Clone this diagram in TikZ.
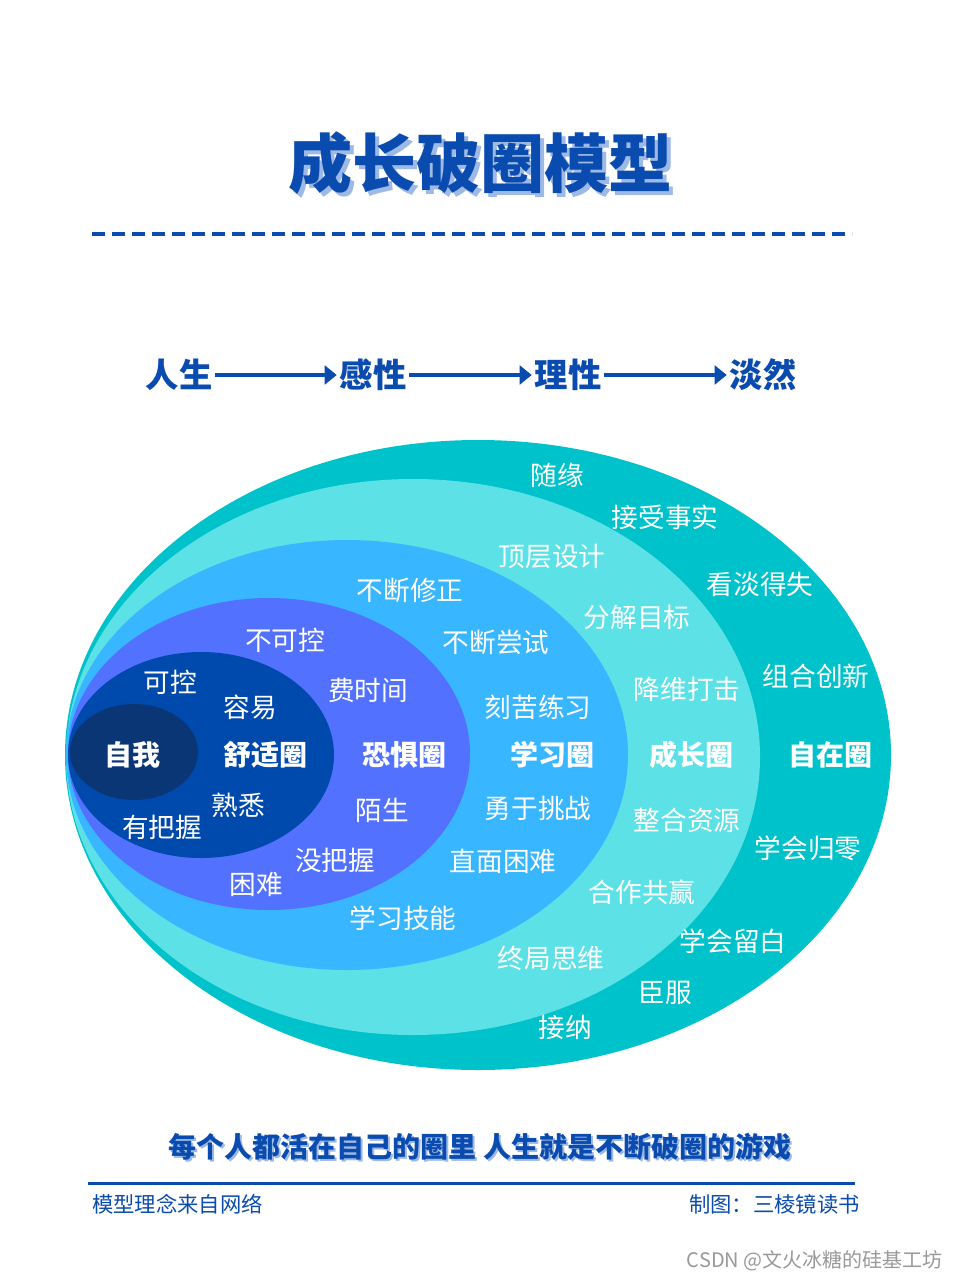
\documentclass[tikz,border=0pt]{standalone}
\usepackage{fontspec}
\setmainfont{Noto Sans CJK SC}
\usetikzlibrary{arrows.meta}

\definecolor{deepblue}{HTML}{0A4BAF}
\definecolor{shadeblue}{HTML}{9DB9E6}
\definecolor{ringteal}{HTML}{00C2CB}
\definecolor{ringcyan}{HTML}{5CE1E6}
\definecolor{ringsky}{HTML}{38B6FF}
\definecolor{ringviolet}{HTML}{5271FF}
\definecolor{ringnavy}{HTML}{004AAD}
\definecolor{ringcore}{HTML}{0A3676}

\tikzset{
  ringname/.style={text=white, inner sep=0pt, font=\fontsize{21}{21}\selectfont\bfseries},
  ringword/.style={text=white, inner sep=0pt, font=\fontsize{20}{20}\selectfont},
  stage/.style={text=deepblue, inner sep=2pt, font=\fontsize{25}{25}\selectfont\bfseries},
  flow/.style={draw=deepblue, line width=3pt, -{Triangle[length=9pt,width=14pt]}},
}

\begin{document}
\begin{tikzpicture}[x=0.75pt, y=-0.75pt]
	\useasboundingbox[fill=white] (0,0) rectangle (960,1280);

	% title
	\node[text=shadeblue, font=\fontsize{48}{48}\selectfont\bfseries] (titleshade) at (484,167) {成长破圈模型};
	\node[text=deepblue, font=\fontsize{48}{48}\selectfont\bfseries] (title) at (480,163) {成长破圈模型};
	\coordinate (dashl) at (92,234);
	\coordinate (dashr) at (852,234);
	\draw[deepblue, line width=3pt, dash pattern=on 10pt off 5pt] (dashl) -- (dashr);

	% stages
	\node[stage] (rensheng) at (179,375) {人生};
	\node[stage] (ganxing) at (373,375) {感性};
	\node[stage] (lixing) at (568,375) {理性};
	\node[stage] (danran) at (763,375) {淡然};
	\draw[flow] (rensheng) -- (ganxing);
	\draw[flow] (ganxing) -- (lixing);
	\draw[flow] (lixing) -- (danran);

	% circles
	\fill[ringteal] (478,755) ellipse [x radius=413*0.75pt, y radius=315*0.75pt];
	\fill[ringcyan] (413,757) ellipse [x radius=347*0.75pt, y radius=278*0.75pt];
	\fill[ringsky] (347,755) ellipse [x radius=281*0.75pt, y radius=215*0.75pt];
	\fill[ringviolet] (269,754) ellipse [x radius=201*0.75pt, y radius=156*0.75pt];
	\fill[ringnavy] (201,755) ellipse [x radius=133*0.75pt, y radius=103*0.75pt];
	\fill[ringcore] (134,752) ellipse [x radius=64*0.75pt, y radius=48*0.75pt];

	\node[ringname] (ziwo) at (132,755) {自我};
	\node[ringname] (shushi) at (265,755) {舒适圈};
	\node[ringname] (kongju) at (404,755) {恐惧圈};
	\node[ringname] (xuexi) at (552,755) {学习圈};
	\node[ringname] (chengzhang) at (691,755) {成长圈};
	\node[ringname] (zizai) at (830,755) {自在圈};

	% comfort
	\node[ringword] (kekong) at (170,682) {可控};
	\node[ringword] (rongyi) at (250,707) {容易};
	\node[ringword] (shuxi) at (238,805) {熟悉};
	\node[ringword] (youbawo) at (162,827) {有把握};
	% fear
	\node[ringword] (bukekong) at (285,640) {不可控};
	\node[ringword] (feishijian) at (368,690) {费时间};
	\node[ringword] (mosheng) at (382,810) {陌生};
	\node[ringword] (meibawo) at (335,860) {没把握};
	\node[ringword] (kunnan) at (256,884) {困难};
	% learning
	\node[ringword] (xiuzheng) at (410,590) {不断修正};
	\node[ringword] (changshi) at (496,642) {不断尝试};
	\node[ringword] (kelian) at (538,707) {刻苦练习};
	\node[ringword] (tiaozhan) at (538,808) {勇于挑战};
	\node[ringword] (zhimian) at (503,861) {直面困难};
	\node[ringword] (jineng) at (403,918) {学习技能};
	% growth
	\node[ringword] (dingceng) at (552,557) {顶层设计};
	\node[ringword] (fenjie) at (637,617) {分解目标};
	\node[ringword] (jiangwei) at (687,689) {降维打击};
	\node[ringword] (zhenghe) at (687,820) {整合资源};
	\node[ringword] (hezuo) at (642,892) {合作共赢};
	\node[ringword] (zhongju) at (551,958) {终局思维};
	% ease
	\node[ringword] (suiyuan) at (557,475) {随缘};
	\node[ringword] (jieshou) at (665,517) {接受事实};
	\node[ringword] (kandan) at (760,584) {看淡得失};
	\node[ringword] (zuhe) at (816,676) {组合创新};
	\node[ringword] (guiling) at (808,848) {学会归零};
	\node[ringword] (liubai) at (733,941) {学会留白};
	\node[ringword] (chenfu) at (665,993) {臣服};
	\node[ringword] (jiena) at (565,1027) {接纳};

	% footer
	\node[text=shadeblue, font=\fontsize{21}{21}\selectfont\bfseries] (mottoshade) at (482,1149) {每个人都活在自己的圈里 人生就是不断破圈的游戏};
	\node[text=deepblue, font=\fontsize{21}{21}\selectfont\bfseries] (motto) at (480,1147) {每个人都活在自己的圈里 人生就是不断破圈的游戏};
	\coordinate (rulel) at (88,1183);
	\coordinate (ruler) at (855,1183);
	\draw[deepblue, line width=2.25pt] (rulel) -- (ruler);
	\node[text=deepblue, anchor=west, inner sep=0pt, font=\fontsize{16}{16}\selectfont] (source) at (92,1204) {模型理念来自网络};
	\node[text=deepblue, anchor=east, inner sep=0pt, font=\fontsize{16}{16}\selectfont] (maker) at (860,1204) {制图：三棱镜读书};
	\node[text=gray!80, anchor=east, inner sep=0pt, font=\fontsize{15}{15}\selectfont] (mark) at (943,1261) {CSDN @文火冰糖的硅基工坊};
\end{tikzpicture}
\end{document}
